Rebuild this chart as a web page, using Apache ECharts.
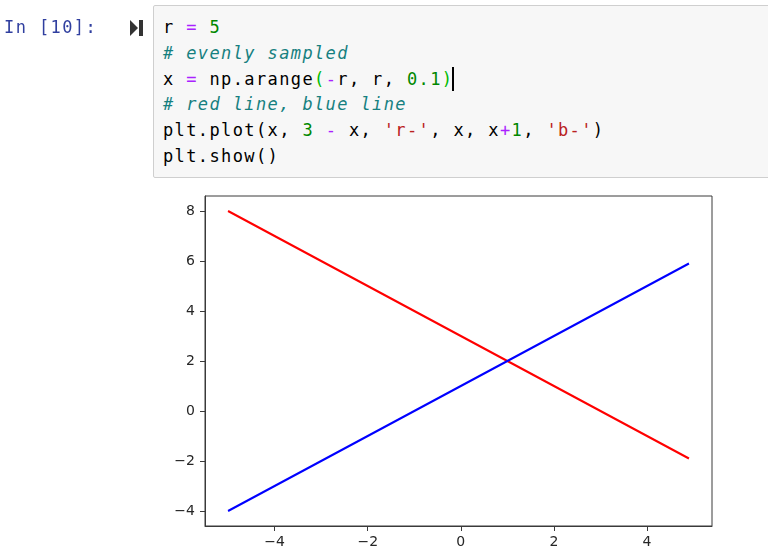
<!DOCTYPE html>
<html>
<head>
<meta charset="utf-8">
<script src="https://cdn.jsdelivr.net/npm/echarts@6.0.0/dist/echarts.min.js"></script>
<style>
  html, body { margin: 0; padding: 0; background: #fff; width: 768px; height: 550px; overflow: hidden; }
  #main { position: absolute; left: 0; top: 0; width: 768px; height: 550px; }
  .prompt { position: absolute; left: 4px; top: 15px; font: 17px "DejaVu Sans Mono", monospace; letter-spacing: 1.4px; color: #303f9f; line-height: 25.8px; }
  .runicon { position: absolute; left: 130px; top: 20px; width: 0; height: 0;
             border-top: 8px solid transparent; border-bottom: 8px solid transparent; border-left: 8px solid #333; }
  .runbar { position: absolute; left: 138.5px; top: 20px; width: 4px; height: 16px; background: #333; }
  .cell { position: absolute; left: 153px; top: 5px; width: 640px; height: 171px;
          background: #f7f7f7; border: 1px solid #cfcfcf; border-radius: 2px; }
  pre.code { position: absolute; left: 9px; top: 9px; margin: 0;
             font: 17px "DejaVu Sans Mono", monospace; letter-spacing: 1.38px; line-height: 25.8px; color: #000; }
  .op { color: #aa22ff; }
  .num { color: #008800; }
  .cm { color: #168080; font-style: italic; }
  .str { color: #ba2121; }
  .br { color: #00bb00; }
  .cur { display: inline-block; width: 2px; height: 24px; background: #000; vertical-align: -6px; margin-left: -1px; }
</style>
</head>
<body>
<div id="main"></div>
<div class="prompt">In [10]:</div>
<div class="runicon"></div>
<div class="runbar"></div>
<div class="cell">
<pre class="code">r <span class="op">=</span> <span class="num">5</span>
<span class="cm"># evenly sampled</span>
x <span class="op">=</span> np.arange<span class="br">(</span><span class="op">-</span>r, r, <span class="num">0.1</span><span class="br">)</span><span class="cur"></span>
<span class="cm"># red line, blue line</span>
plt.plot(x, <span class="num">3</span> <span class="op">-</span> x, <span class="str">'r-'</span>, x, x<span class="op">+</span><span class="num">1</span>, <span class="str">'b-'</span>)
plt.show()</pre>
</div>
<script>
// values: the two straight lines and where they cross
var xs = [-5, 1, 4.9];
var redY = [8, 2, -1.9];
var blueY = [-4, 2, 5.9];
var xTicks = [-4, -2, 0, 2, 4];
var yTicks = [-4, -2, 0, 2, 4, 6, 8];

function pairs(ys) {
    return xs.map(function (x, i) { return [x, ys[i]]; });
}
function minus(v) {
    return String(v).replace('-', '\u2212');
}

var myChart = echarts.init(document.getElementById('main'));

var tickLabel = {
    color: '#262626',
    fontFamily: 'DejaVu Sans',
    fontSize: 14,
    formatter: minus
};

var option = {
    animation: false,
    grid: {
        left: 205, top: 196, width: 507, height: 330,
        show: true, borderColor: '#3a3a3a', borderWidth: 1
    },
    xAxis: {
        type: 'value',
        min: -5.495, max: 5.395,
        splitLine: { show: false },
        axisLine: { show: true, onZero: false, lineStyle: { color: '#3a3a3a' } },
        axisTick: { show: true, length: 5, customValues: xTicks, lineStyle: { color: '#3a3a3a' } },
        axisLabel: Object.assign({ customValues: xTicks, margin: 9 }, tickLabel)
    },
    yAxis: {
        type: 'value',
        min: -4.6, max: 8.6,
        splitLine: { show: false },
        axisLine: { show: true, onZero: false, lineStyle: { color: '#3a3a3a' } },
        axisTick: { show: true, length: 5, customValues: yTicks, lineStyle: { color: '#3a3a3a' } },
        axisLabel: Object.assign({ customValues: yTicks, margin: 10 }, tickLabel)
    },
    series: [
        {
            type: 'line',
            data: pairs(redY),
            showSymbol: false,
            lineStyle: { color: '#ff0000', width: 2 },
            itemStyle: { color: '#ff0000' }
        },
        {
            type: 'line',
            data: pairs(blueY),
            showSymbol: false,
            lineStyle: { color: '#0000ff', width: 2 },
            itemStyle: { color: '#0000ff' }
        }
    ]
};

myChart.setOption(option);
</script>
</body>
</html>
